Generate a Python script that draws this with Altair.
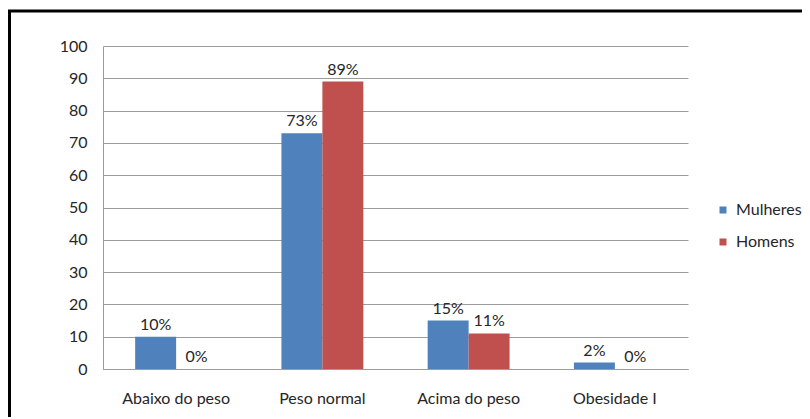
import altair as alt
import pandas as pd

categories = ["Abaixo do peso", "Peso normal", "Acima do peso", "Obesidade I"]
series = ["Mulheres", "Homens"]
mulheres = [10, 73, 15, 2]
homens = [0, 89, 11, 0]
colors = ["#4F81BD", "#C0504D"]
y_ticks = [0, 10, 20, 30, 40, 50, 60, 70, 80, 90, 100]

rows = []
for c, m, h in zip(categories, mulheres, homens):
    rows.append({"cat": c, "serie": series[0], "v": m, "label": f"{m}%"})
    rows.append({"cat": c, "serie": series[1], "v": h, "label": f"{h}%"})
df = pd.DataFrame(rows)

FONT = "Lato"
FS = 16
TXT = "#262626"
GRID = "#9c9c9c"

x_enc = alt.X(
    "cat:N",
    sort=categories,
    scale=alt.Scale(paddingInner=0.44, paddingOuter=0.22),
    axis=alt.Axis(title=None, labelAngle=0, ticks=False, tickSize=0,
                  labelPadding=21, domainColor=GRID, labelFont=FONT,
                  labelFontSize=FS, labelColor=TXT),
)
y_enc = alt.Y(
    "v:Q",
    scale=alt.Scale(domain=[0, 100]),
    axis=alt.Axis(title=None, values=y_ticks, grid=True, gridColor=GRID,
                  ticks=False, tickSize=0, labelPadding=16, domainColor=GRID,
                  labelFont=FONT, labelFontSize=FS, labelColor=TXT,
                  labelOverlap=False, tickCount=11),
)
xoff = alt.XOffset("serie:N", sort=series, scale=alt.Scale(paddingInner=0, paddingOuter=0))

base = alt.Chart(df)

bars = base.mark_bar().encode(
    x=x_enc,
    xOffset=xoff,
    y=y_enc,
    color=alt.Color("serie:N", sort=series,
                    scale=alt.Scale(domain=series, range=colors),
                    legend=alt.Legend(title=None, orient="none", legendX=612, legendY=156,
                                      symbolType="square", symbolSize=49,
                                      symbolStrokeWidth=0, labelFont=FONT,
                                      labelFontSize=FS, labelColor=TXT,
                                      rowPadding=16, labelOffset=5)),
)

labels = base.mark_text(dy=-7, baseline="alphabetic", font=FONT, fontSize=FS, color=TXT).encode(
    x=x_enc,
    xOffset=xoff,
    y=y_enc,
    text="label:N",
)

frame = alt.Chart(pd.DataFrame({"k": [0]})).mark_rect(filled=False, stroke="black", strokeWidth=3).encode(
    x=alt.value(-93.5), x2=alt.value(800), y=alt.value(-35), y2=alt.value(500)
)

chart = alt.layer(bars, labels, frame).properties(
    width=585,
    height=323,
    autosize=alt.AutoSizeParams(type="none"),
    padding={"left": 95, "top": 38, "right": 114, "bottom": 48},
    background="white",
).configure_view(strokeWidth=0)

chart.save("out.html", embed_options={"renderer": "svg", "actions": False})
